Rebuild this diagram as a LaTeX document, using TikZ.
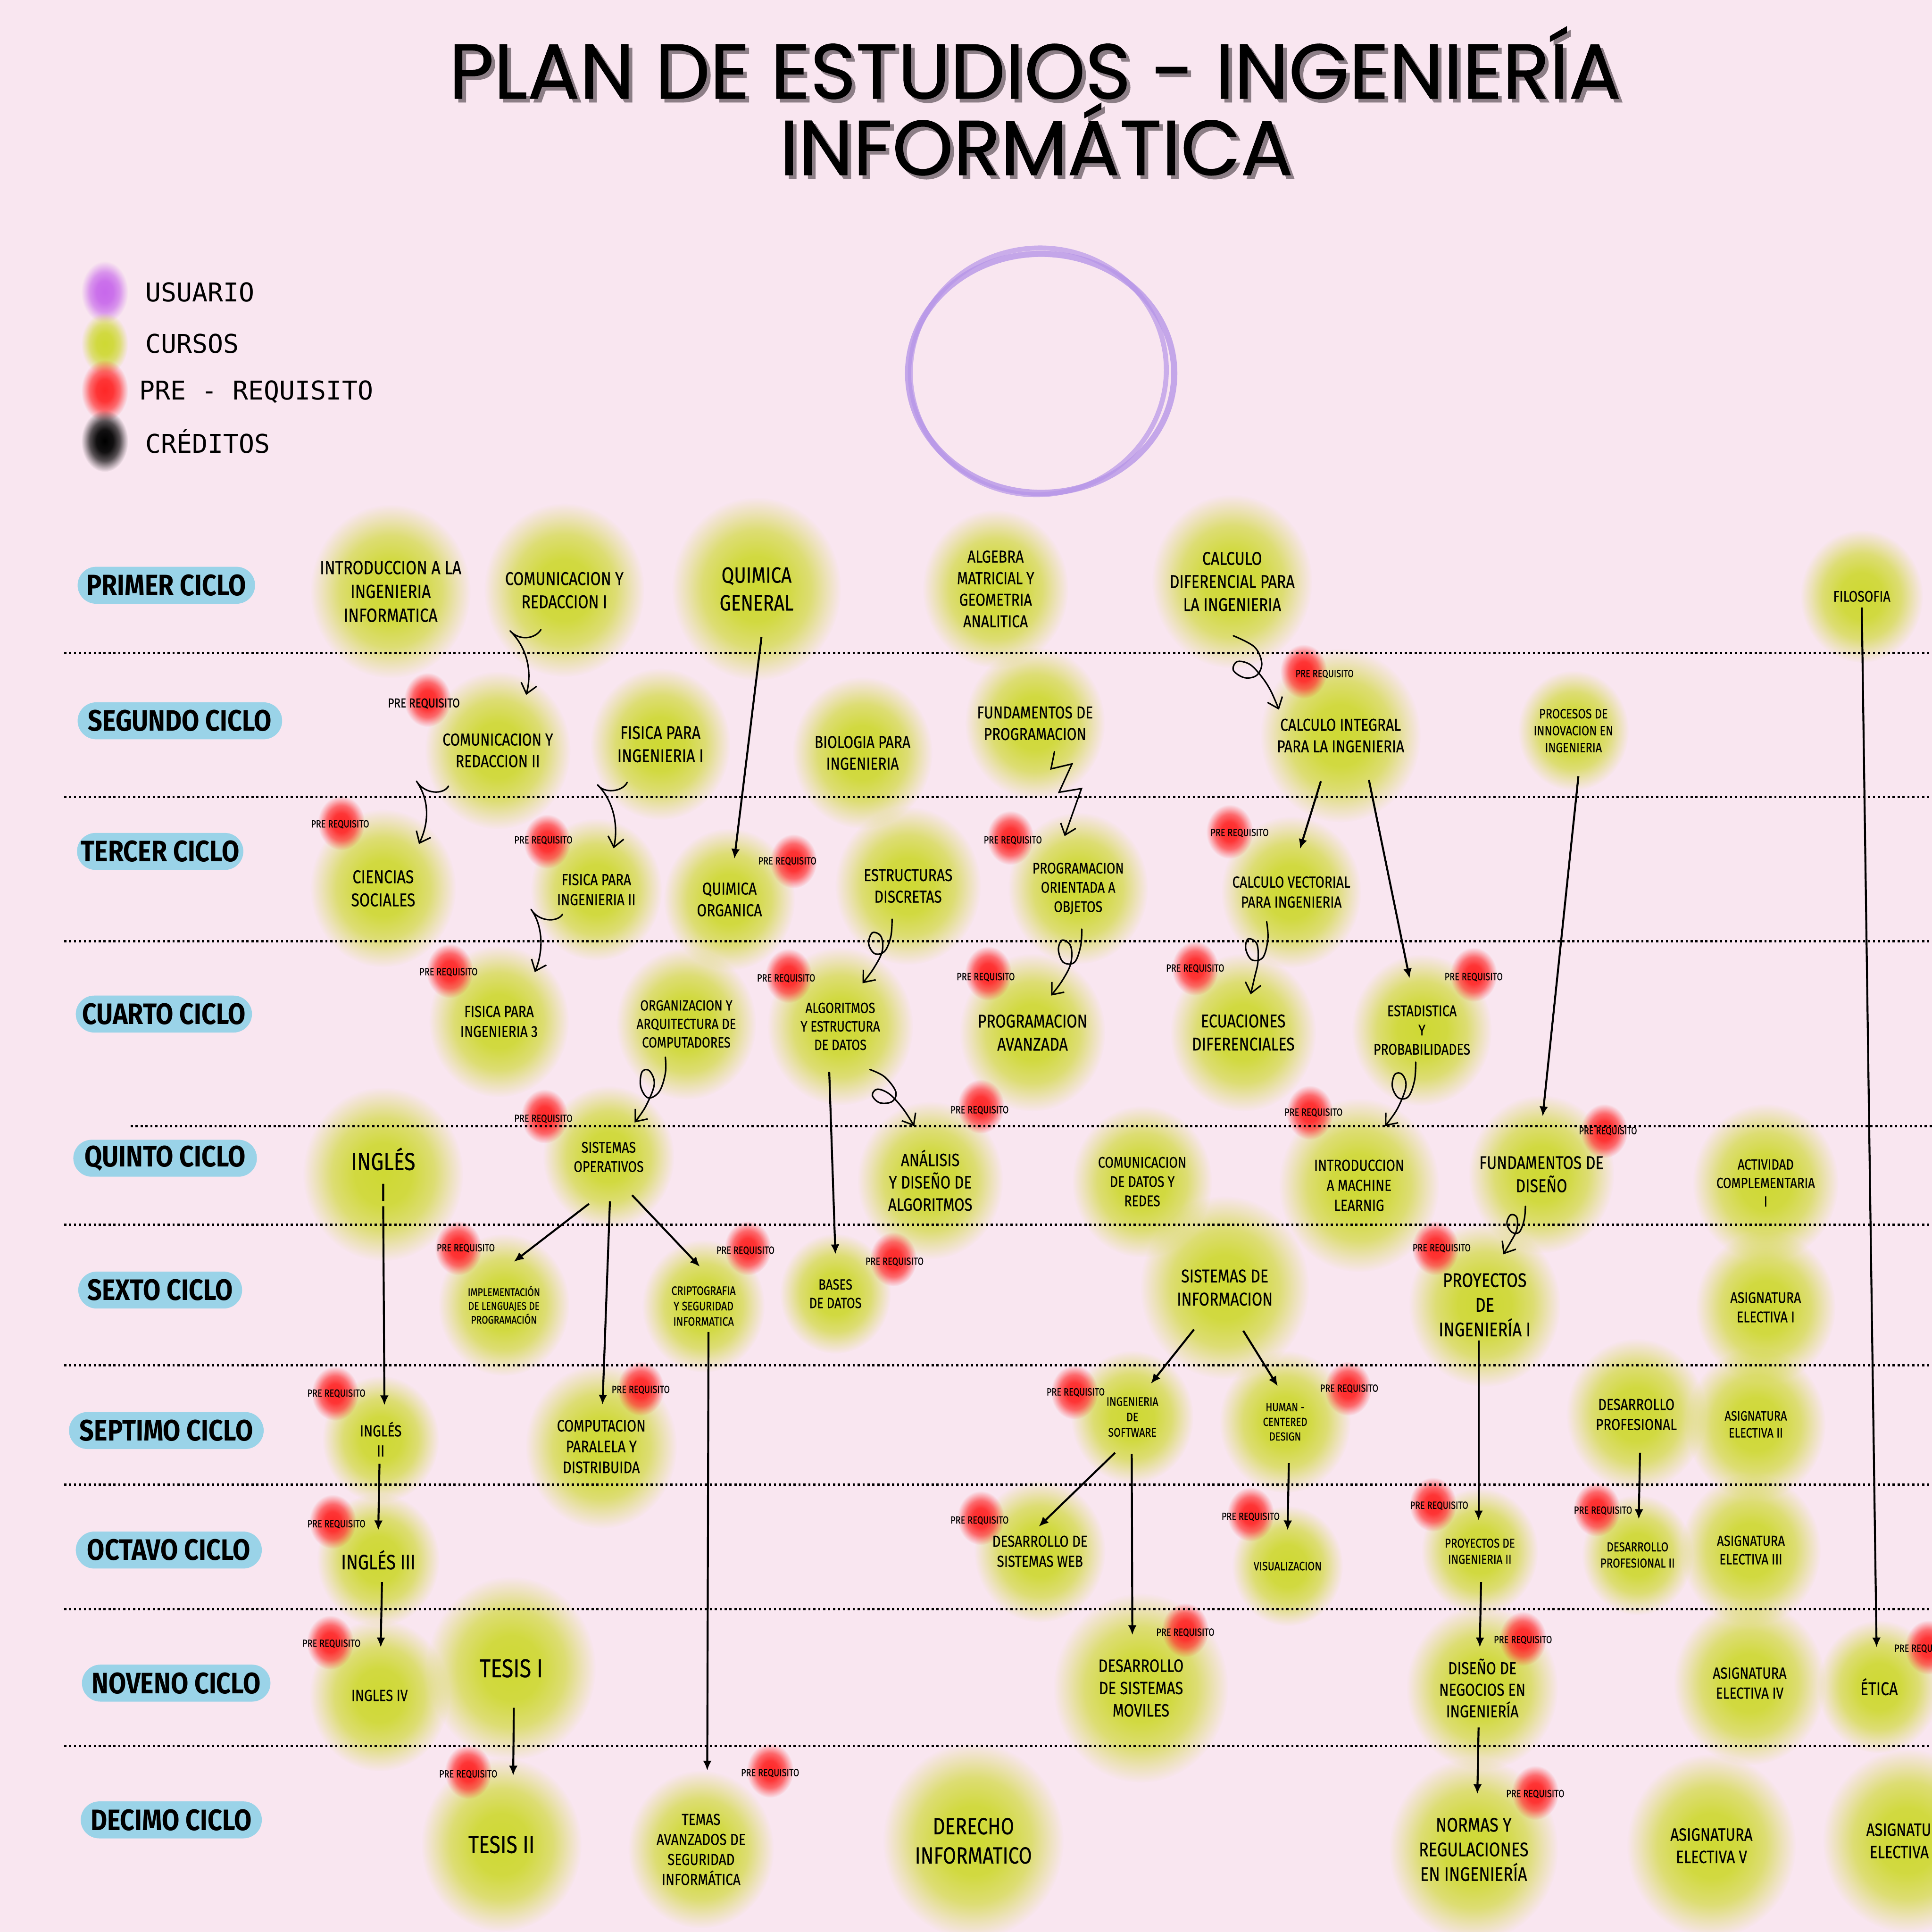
\documentclass[tikz,border=0pt]{standalone}
\usepackage{fontspec}
\usetikzlibrary{arrows.meta,calc,fadings}
\newfontfamily\cfont[FakeStretch=0.82,FakeBold=0.5]{Fira Sans}
\newfontfamily\lfont[FakeStretch=0.86]{Fira Sans}
\newfontfamily\tfont[FakeBold=0.8]{Poppins}
\newfontfamily\mfont{DejaVu Sans Mono}
\definecolor{bg}{RGB}{249,230,240}
\definecolor{cy}{RGB}{207,217,52}
\definecolor{cr}{RGB}{255,40,40}
\definecolor{cp}{RGB}{200,105,235}
\definecolor{lb}{RGB}{154,211,232}
\definecolor{pc}{RGB}{183,150,232}
\definecolor{shd}{RGB}{140,126,134}
\pgfdeclareradialshading{glowsh}{\pgfpointorigin}{color(0bp)=(white); color(9bp)=(white!93!black); color(16bp)=(white!66!black); color(21bp)=(white!28!black); color(25bp)=(black); color(50bp)=(black)}
\pgfdeclarefading{glowf}{\pgfuseshading{glowsh}}
\pgfdeclarelayer{back}
\pgfdeclarelayer{blobs}
\pgfsetlayers{back,blobs,main}
\tikzset{
 course/.style={align=center, inner sep=0pt, text=black},
 cyc/.style={fill=lb, rounded corners=15pt, minimum height=30pt, inner sep=0pt, font=\lfont\bfseries\fontsize{24}{24}\selectfont},
 prt/.style={inner sep=0pt},
 sepl/.style={line width=1.8pt, dash pattern=on 1.8pt off 2.2pt},
 arr/.style={line width=1.6pt, -{Latex[length=8pt,width=7pt]}},
 harr/.style={line width=1.2pt, line cap=round, line join=round, -{Straight Barb[length=8pt,width=13pt,line width=1.2pt]}},
 ttl/.style={inner sep=0pt, font=\tfont\fontsize{63}{63}\selectfont},
 leg/.style={inner sep=0pt, anchor=west, font=\mfont\fontsize{21}{21}\selectfont},
}
\newcommand\glowat[5]{\begin{pgfonlayer}{blobs}\fill[#1, path fading=glowf, fit fading=true] (#2,#3) ellipse ({#4} and {#5});\end{pgfonlayer}}
\newcommand\crs[6]{\glowat{cy}{#2}{#3}{1.18*#5}{1.28*#5}%
 \node[course, font={\cfont\fontsize{#4pt}{\dimexpr#4pt*5/4\relax}\selectfont}] (#1) at (#2,#3) {#6};}
\newcommand\pre[6]{\glowat{cr}{#2}{#3}{19}{22}%
 \node[prt, font={\cfont\fontsize{#6pt}{#6pt}\selectfont}] (#1) at (#4,#5) {PRE REQUISITO};}
\begin{document}
\begin{tikzpicture}[x=1pt,y=-1pt]
\begin{pgfonlayer}{back}\fill[bg] (0,0) rectangle (1568,1568);\end{pgfonlayer}
\useasboundingbox (0,0) rectangle (1568,1568);
% title
\node[ttl, text=shd] (t1s) at (843,54) {PLAN DE ESTUDIOS - INGENIERÍA};
\node[ttl] (t1) at (840,51) {PLAN DE ESTUDIOS - INGENIERÍA};
\node[ttl, text=shd] (t2s) at (844,116) {INFORMÁTICA};
\node[ttl] (t2) at (841,113) {INFORMÁTICA};
% purple circle
\draw[pc, line width=5pt, opacity=0.8] (845,303) ellipse (108 and 97);
\draw[pc, line width=4pt, opacity=0.7, rotate around={10:(845,303)}] (843,301) ellipse (104 and 100);
% legend
\glowat{cp}{85}{237}{19}{25}
\glowat{cy}{85}{279}{19}{25}
\glowat{cr}{85}{317}{19}{25}
\glowat{black}{85}{358}{19}{25}
\node[leg] (l1) at (118,237) {USUARIO};
\node[leg] (l2) at (118,279) {CURSOS};
\node[leg] (l3) at (113,318) {PRE - REQUISITO};
\node[leg] (l4) at (118,358) {CRÉDITOS};
% separators
\foreach \yy in {530,647,764,994,1108,1205,1306,1417} \draw[sepl] (52,\yy) -- (1568,\yy);
\draw[sepl] (106,914) -- (1568,914);
% cycle labels
\node[cyc, minimum width=144pt] (c1) at (135,475) {PRIMER CICLO};
\node[cyc, minimum width=166pt] (c2) at (146,585) {SEGUNDO CICLO};
\node[cyc, minimum width=135pt] (c3) at (130,691) {TERCER CICLO};
\node[cyc, minimum width=143pt] (c4) at (133,823) {CUARTO CICLO};
\node[cyc, minimum width=149pt] (c5) at (134,940) {QUINTO CICLO};
\node[cyc, minimum width=133pt] (c6) at (130,1047) {SEXTO CICLO};
\node[cyc, minimum width=158pt] (c7) at (135,1161) {SEPTIMO CICLO};
\node[cyc, minimum width=151pt] (c8) at (137,1258) {OCTAVO CICLO};
\node[cyc, minimum width=153pt] (c9) at (143,1366) {NOVENO CICLO};
\node[cyc, minimum width=147pt] (c10) at (139,1477) {DECIMO CICLO};
% courses
\crs{ii}{317}{480}{15.5}{55}{INTRODUCCION A LA\\INGENIERIA\\INFORMATICA}
\crs{cr1}{458}{479}{15}{55}{COMUNICACION Y\\REDACCION I}
\crs{qg}{614}{478}{18}{58}{QUIMICA\\GENERAL}
\crs{al}{808}{478}{14}{50}{ALGEBRA\\MATRICIAL Y\\GEOMETRIA\\ANALITICA}
\crs{cd}{1000}{472}{15}{55}{CALCULO\\DIFERENCIAL PARA\\LA INGENIERIA}
\crs{fi}{1511}{484}{12.5}{42}{FILOSOFIA}
\crs{cr2}{404}{609}{14}{50}{COMUNICACION Y\\REDACCION II}
\crs{f1}{536}{604}{15}{48}{FISICA PARA\\INGENIERIA I}
\crs{bio}{700}{611}{14}{48}{BIOLOGIA PARA\\INGENIERIA}
\crs{fp}{840}{587}{14}{48}{FUNDAMENTOS DE\\PROGRAMACION}
\crs{ci}{1088}{597}{14}{55}{CALCULO INTEGRAL\\PARA LA INGENIERIA}
\crs{pi}{1277}{593}{11}{38}{PROCESOS DE\\INNOVACION EN\\INGENIERIA}
\crs{cs}{311}{721}{15}{50}{CIENCIAS\\SOCIALES}
\crs{f2}{484}{722}{13}{45}{FISICA PARA\\INGENIERIA II}
\crs{qo}{592}{730}{14}{45}{QUIMICA\\ORGANICA}
\crs{ed}{737}{719}{14}{50}{ESTRUCTURAS\\DISCRETAS}
\crs{poo}{875}{721}{12.5}{48}{PROGRAMACION\\ORIENTADA A\\OBJETOS}
\crs{cv}{1048}{724}{13}{48}{CALCULO VECTORIAL\\PARA INGENIERIA}
\crs{f3}{405}{829}{13}{48}{FISICA PARA\\INGENIERIA 3}
\crs{oac}{557}{831}{12}{48}{ORGANIZACION Y\\ARQUITECTURA DE\\COMPUTADORES}
\crs{aed}{682}{833}{12}{50}{ALGORITMOS\\Y ESTRUCTURA\\DE DATOS}
\crs{pa}{838}{838}{15}{50}{PROGRAMACION\\AVANZADA}
\crs{edif}{1009}{838}{15}{50}{ECUACIONES\\DIFERENCIALES}
\crs{est}{1154}{836}{12.5}{48}{ESTADISTICA\\Y\\PROBABILIDADES}
\crs{in1}{311}{953}{20}{55}{INGLÉS\\I}
\crs{so}{494}{939}{12.5}{45}{SISTEMAS\\OPERATIVOS}
\crs{ada}{755}{958}{14.5}{50}{ANÁLISIS\\Y DISEÑO DE\\ALGORITMOS}
\crs{cdr}{927}{959}{12.5}{48}{COMUNICACION\\DE DATOS Y\\REDES}
\crs{iml}{1103}{962}{13}{55}{INTRODUCCION\\A MACHINE\\LEARNIG}
\crs{fd}{1251}{953}{15}{50}{FUNDAMENTOS DE\\DISEÑO}
\crs{ac}{1433}{960}{12}{50}{ACTIVIDAD\\COMPLEMENTARIA\\I}
\crs{ilp}{409}{1059}{9}{45}{IMPLEMENTACIÓN\\DE LENGUAJES DE\\PROGRAMACIÓN}
\crs{csi}{571}{1060}{10}{42}{CRIPTOGRAFIA\\Y SEGURIDAD\\INFORMATICA}
\crs{bd}{678}{1050}{12}{38}{BASES\\DE DATOS}
\crs{si}{994}{1045}{15}{58}{SISTEMAS DE\\INFORMACION}
\crs{pi1}{1205}{1059}{16}{52}{PROYECTOS\\DE\\INGENIERÍA I}
\crs{ae1}{1433}{1061}{12.5}{48}{ASIGNATURA\\ELECTIVA I}
\crs{in2}{309}{1168}{13}{40}{INGLÉS\\II}
\crs{cpd}{488}{1174}{13.5}{52}{COMPUTACION\\PARALELA Y\\DISTRIBUIDA}
\crs{is}{919}{1150}{10}{42}{INGENIERIA\\DE\\SOFTWARE}
\crs{hcd}{1043}{1154}{9.5}{45}{HUMAN -\\CENTERED\\DESIGN}
\crs{dp}{1328}{1148}{13}{48}{DESARROLLO\\PROFESIONAL}
\crs{ae2}{1425}{1156}{11}{48}{ASIGNATURA\\ELECTIVA II}
\crs{in3}{307}{1266}{17}{42}{INGLÉS III}
\crs{dsw}{844}{1259}{13}{45}{DESARROLLO DE\\SISTEMAS WEB}
\crs{vis}{1045}{1271}{10}{38}{VISUALIZACION}
\crs{pi2}{1201}{1259}{10.5}{40}{PROYECTOS DE\\INGENIERIA II}
\crs{dp2}{1329}{1262}{10.5}{38}{DESARROLLO\\PROFESIONAL II}
\crs{ae3}{1421}{1258}{12}{48}{ASIGNATURA\\ELECTIVA III}
\crs{in4}{308}{1376}{13}{48}{INGLES IV}
\crs{t1}{415}{1354}{21}{58}{TESIS I}
\crs{dsm}{926}{1370}{14.5}{60}{DESARROLLO\\DE SISTEMAS\\MOVILES}
\crs{dni}{1203}{1370}{14}{52}{DISEÑO DE\\NEGOCIOS EN\\INGENIERÍA}
\crs{ae4}{1420}{1366}{13}{52}{ASIGNATURA\\ELECTIVA IV}
\crs{eti}{1525}{1369}{15}{42}{ÉTICA}
\crs{t2}{407}{1497}{20}{55}{TESIS II}
\crs{tas}{569}{1501}{13}{50}{TEMAS\\AVANZADOS DE\\SEGURIDAD\\INFORMÁTICA}
\crs{di}{790}{1494}{19}{62}{DERECHO\\INFORMATICO}
\crs{nri}{1196}{1501}{16}{58}{NORMAS Y\\REGULACIONES\\EN INGENIERÍA}
\crs{ae5}{1389}{1498}{14.5}{58}{ASIGNATURA\\ELECTIVA V}
\crs{ae6}{1548}{1494}{14.5}{58}{ASIGNATURA\\ELECTIVA VI}
% pre requisito markers
\pre{p1}{347}{568}{344}{571}{10.5}
\pre{p2}{1058}{545}{1075}{547}{8.5}
\pre{p3}{277}{668}{276}{669}{8.5}
\pre{p4}{444}{683}{441}{682}{8.5}
\pre{p5}{644}{699}{639}{699}{8.5}
\pre{p6}{820}{680}{822}{682}{8.5}
\pre{p7}{998}{675}{1006}{676}{8.5}
\pre{p8}{365}{788}{364}{789}{8.5}
\pre{p9}{640}{792}{638}{794}{8.5}
\pre{p10}{802}{790}{800}{793}{8.5}
\pre{p11}{970}{786}{970}{786}{8.5}
\pre{p12}{1196}{791}{1196}{793}{8.5}
\pre{p13}{442}{906}{441}{908}{8.5}
\pre{p14}{796}{898}{795}{901}{8.5}
\pre{p15}{1063}{903}{1066}{903}{8.5}
\pre{p16}{1302}{918}{1305}{918}{8.5}
\pre{p17}{372}{1013}{378}{1013}{8.5}
\pre{p18}{607}{1013}{605}{1015}{8.5}
\pre{p19}{725}{1022}{726}{1024}{8.5}
\pre{p20}{1165}{1013}{1170}{1013}{8.5}
\pre{p21}{272}{1131}{273}{1131}{8.5}
\pre{p22}{520}{1127}{520}{1128}{8.5}
\pre{p23}{872}{1130}{873}{1130}{8.5}
\pre{p24}{1094}{1127}{1095}{1127}{8.5}
\pre{p25}{270}{1235}{273}{1237}{8.5}
\pre{p26}{796}{1232}{795}{1234}{8.5}
\pre{p27}{1015}{1229}{1015}{1231}{8.5}
\pre{p28}{1163}{1221}{1168}{1222}{8.5}
\pre{p29}{1296}{1225}{1301}{1226}{8.5}
\pre{p30}{268}{1333}{269}{1334}{8.5}
\pre{p31}{962}{1323}{962}{1325}{8.5}
\pre{p32}{1236}{1330}{1236}{1331}{8.5}
\pre{p33}{1565}{1337}{1561}{1338}{8.5}
\pre{p34}{380}{1438}{380}{1440}{8.5}
\pre{p35}{625}{1437}{625}{1439}{8.5}
\pre{p36}{1246}{1455}{1246}{1456}{8.5}
% straight arrows
\draw[arr] ($(qg)+(4,39)$) -- ($(qo)+(4,-33)$);
\draw[arr] ($(ci)+(-16,37)$) -- ($(cv)+(7,-35)$);
\draw[arr] ($(ci)+(23,36)$) -- ($(est)+(-10,-42)$);
\draw[arr] ($(pi)+(4,37)$) -- ($(fd)+(1,-47)$);
\draw[arr] ($(fi)+(0,9)$) -- ($(eti)+(-2,-32)$);
\draw[arr] ($(aed)+(-9,37)$) -- ($(bd)+(0,-32)$);
\draw[arr] ($(so)+(-16,38)$) -- ($(ilp)+(8,-35)$);
\draw[arr] ($(so)+(1,36)$) -- ($(cpd)+(1,-34)$);
\draw[arr] ($(so)+(19,31)$) -- ($(csi)+(-3,-32)$);
\draw[arr] ($(in1)+(0,26)$) -- ($(in2)+(3,-27.5)$);
\draw[arr] ($(in2)+(-1,20)$) -- ($(in3)+(0,-24)$);
\draw[arr] ($(in3)+(3,18)$) -- ($(in4)+(1,-39)$);
\draw[arr] ($(t1)+(2,32)$) -- ($(t2)+(9.5,-56)$);
\draw[arr] ($(csi)+(4,21)$) -- ($(tas)+(5,-64)$);
\draw[arr] ($(si)+(-25,34)$) -- ($(is)+(15,-27)$);
\draw[arr] ($(si)+(15,35)$) -- ($(hcd)+(-6,-29)$);
\draw[arr] ($(is)+(-14,29)$) -- ($(dsw)+(-1,-20)$);
\draw[arr] ($(is)+(-0.5,30)$) -- ($(dsm)+(-7,-43)$);
\draw[arr] ($(hcd)+(3,33.5)$) -- ($(vis)+(0,-29)$);
\draw[arr] ($(pi1)+(-5,29)$) -- ($(pi2)+(-1,-25)$);
\draw[arr] ($(pi2)+(1,25)$) -- ($(dni)+(-2,-33)$);
\draw[arr] ($(dni)+(-3,32)$) -- ($(nri)+(3,-45)$);
\draw[arr] ($(dp)+(3,31)$) -- ($(dp2)+(1,-29)$);
% hand-drawn arrows
\draw[harr] ($(cr1)+(-19,32)$) .. controls (434,519) and (421,520) .. (414,512) .. controls (428,526) and (432,545) .. ($(cr2)+(23,-45)$);
\draw[harr] ($(cr2)+(-40,29)$) .. controls (360,645) and (345,645) .. (338,634) .. controls (349,650) and (348,668) .. ($(cs)+(29,-36)$);
\draw[harr] ($(f1)+(-27,31)$) .. controls (505,643) and (490,644) .. (485,637) .. controls (498,650) and (502,670) .. ($(f2)+(14,-33.5)$);
\draw[harr] ($(f2)+(-27.4,20)$) .. controls (452,749) and (437,748) .. (431,738) .. controls (441,752) and (441,772) .. ($(f3)+(29,-40)$);
\draw[harr] plot[smooth, tension=0.6] coordinates {($(cd)+(1,44)$) (1018,525) (1024,538) (1020,548) (1010,550) (1001,544) (1004,537) (1014,539) (1023,548) (1031,560) ($(ci)+(-50,-21)$)};
\draw[harr, line join=miter] ($(fp)+(15.8,23)$) -- (853,624) -- (870,620) -- (859.5,643) -- (877.7,640) -- ($(poo)+(-11,-42.4)$);
\draw[harr] plot[smooth, tension=0.6] coordinates {($(ed)+(-13,27)$) (723,760) (718,772) (710,774) (705,766) (708,757) (715,760) (716,772) (709,786) ($(aed)+(18,-35)$)};
\draw[harr] plot[smooth, tension=0.6] coordinates {($(poo)+(3,33)$) (877,768) (872,781) (863,781) (859,771) (862,763) (869,768) (869,782) (862,796) ($(pa)+(15,-30)$)};
\draw[harr] plot[smooth, tension=0.6] coordinates {($(cv)+(-20,24)$) (1029,762) (1025,777) (1016,779) (1011,770) (1013,762) (1020,766) (1021,780) (1018,794) ($(edif)+(6,-31)$)};
\draw[harr] plot[smooth, tension=0.6] coordinates {($(oac)+(-17,27)$) (540,871) (535,886) (526,891) (520,882) (521,870) (527,869) (531,880) (524,898) ($(so)+(21,-28)$)};
\draw[harr] plot[smooth, tension=0.6] coordinates {($(aed)+(24,35)$) (718,874) (727,886) (724,894) (714,895) (708,889) (712,884) (722,888) (733,900) ($(ada)+(-13,-44)$)};
\draw[harr] plot[smooth, tension=0.6] coordinates {($(est)+(-5,26)$) (1148,877) (1143,890) (1135,891) (1130,882) (1132,872) (1138,872) (1141,882) (1134,900) ($(iml)+(21,-48)$)};
\draw[harr] plot[smooth, tension=0.6] coordinates {($(fd)+(-13,26)$) (1237,990) (1233,1000) (1227,1000) (1223,993) (1226,986) (1231,988) (1231,998) (1226,1008) ($(pi1)+(15,-41)$)};
\end{tikzpicture}
\end{document}
